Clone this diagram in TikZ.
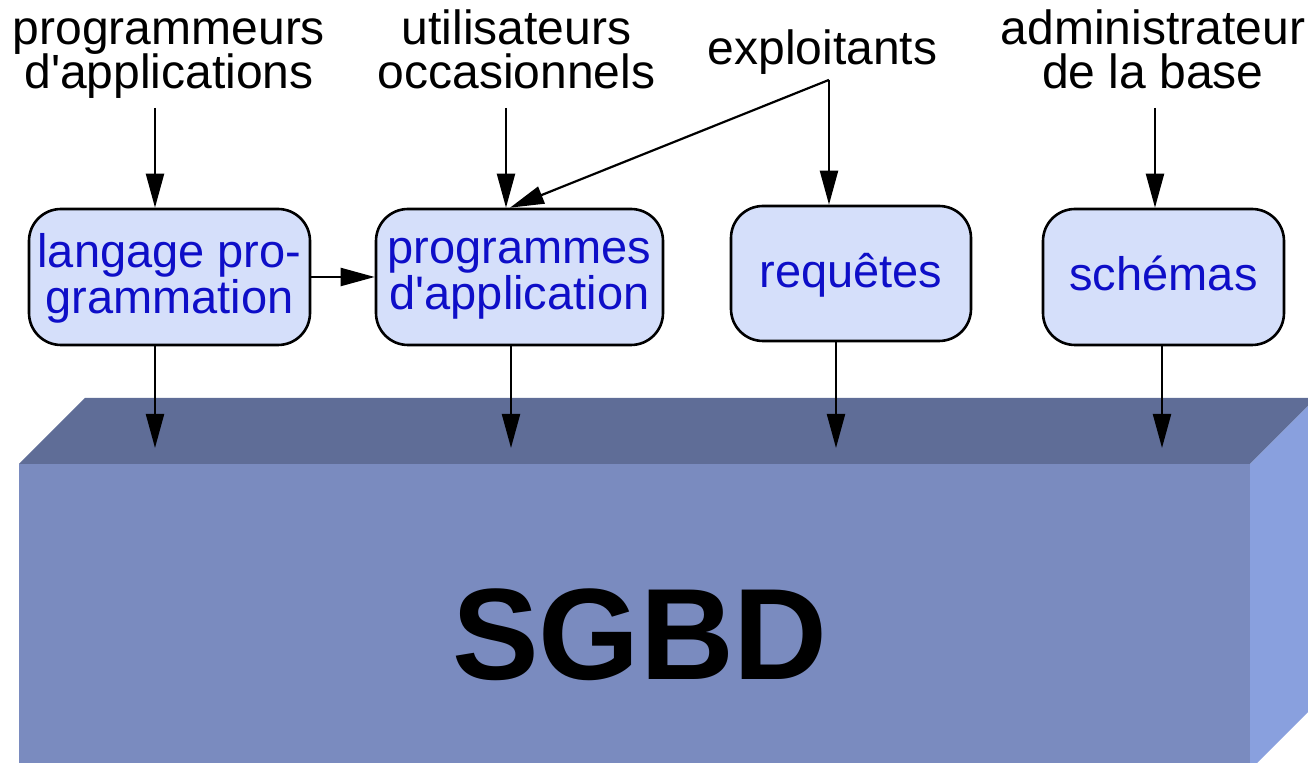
\documentclass[tikz,border=0pt]{standalone}
\usepackage{fontspec}
\newfontfamily\arialfont{Liberation Sans}
\usetikzlibrary{arrows.meta,calc}

\definecolor{topface}{RGB}{95,109,151}
\definecolor{frontface}{RGB}{122,139,191}
\definecolor{sideface}{RGB}{137,160,222}
\definecolor{boxfill}{RGB}{213,223,250}
\definecolor{boxtext}{RGB}{14,14,200}

% struts giving every line the same height and depth
\newcommand\boxstrut{\rule[-4.5pt]{0pt}{23pt}}
\newcommand\highstrut{\rule[-6.5pt]{0pt}{23pt}}
\newcommand\labstrut{\rule[-5pt]{0pt}{22.5pt}}
\newcommand\tightlines{\lineskiplimit=-20pt\relax}

\begin{document}
\begin{tikzpicture}[x=0.5pt,y=-0.5pt,
  stage/.style={draw=black, line width=1.3pt, fill=boxfill, rounded corners=16pt,
    inner sep=0pt, align=center, text=boxtext,
    font={\arialfont\fontsize{23.5}{23}\selectfont\tightlines}},
  who/.style={inner sep=0pt, align=center,
    font={\arialfont\fontsize{24}{22}\selectfont\tightlines}},
  arr/.style={line width=1.1pt, -{Triangle[length=17pt,width=9pt]}},
]
\useasboundingbox (0,0) rectangle (1308,763);

% the DBMS block, seen in perspective
\begin{scope}
  \clip (0,0) rectangle (1308,763);
  \fill[frontface] (19,464) rectangle (1250,770);
  \fill[topface] (19,464) -- (85,398) -- (1316,398) -- (1250,464) -- cycle;
  \fill[sideface] (1250,464) -- (1316,398) -- (1316,704) -- (1250,770) -- cycle;
\end{scope}
\node[font=\arialfont\bfseries\fontsize{65}{78}\selectfont, anchor=base, inner sep=0pt]
  (sgbd) at (640,680) {SGBD};

% users
\node[who] (lab1) at (169,54) {\labstrut programmeurs\\\labstrut d'applications};
\node[who] (lab2) at (516.5,54) {\labstrut utilisateurs\\\labstrut occasionnels};
\node[who] (lexp) at (822.5,52) {\labstrut exploitants};
\node[who] (lab4) at (1153,54) {\labstrut administrateur\\\labstrut de la base};

% tools
\node[stage, minimum width=140.5pt, minimum height=68pt] (b1) at (169.5,277)
  {\boxstrut langage pro-\\\boxstrut grammation};
\node[stage, minimum width=143.5pt, minimum height=68pt] (b2) at (519.5,277)
  {\highstrut programmes\\\highstrut d'application};
\node[stage, minimum width=120pt, minimum height=67.5pt] (b3) at (851,273.5)
  {\boxstrut requêtes};
\node[stage, minimum width=120.5pt, minimum height=68pt] (b4) at (1163.5,277)
  {\boxstrut schémas};

% attachment points of the connectors
\coordinate (in1) at ($(b1.north)+(-14.5,0)$);
\coordinate (in2) at ($(b2.north)+(-13.5,0)$);
\coordinate (in2b) at ($(b2.north)+(-9.5,0)$);
\coordinate (in3) at ($(b3.north)+(-22,0)$);
\coordinate (in4) at ($(b4.north)+(-8.5,0)$);
\coordinate (out1) at ($(b1.south)+(-14.5,0)$);
\coordinate (out2) at ($(b2.south)+(-8.5,0)$);
\coordinate (out3) at ($(b3.south)+(-15,0)$);
\coordinate (out4) at ($(b4.south)+(-1.5,0)$);
\coordinate (deck) at (0,448);
\coordinate (j) at ($(in3 |- lexp.south)+(0,5)$);

% users to tools
\draw[arr] ($(in1 |- lab1.south)+(0,9)$) -- (in1);
\draw[arr] ($(in2 |- lab2.south)+(0,9)$) -- (in2);
\draw[arr] ($(in4 |- lab4.south)+(0,9)$) -- (in4);
\draw[arr] (j) -- (in3);
\draw[arr] (j) -- (in2b);
\draw[arr] (b1.east) -- (b2.west);

% tools to the DBMS
\draw[arr] (out1) -- (out1 |- deck);
\draw[arr] (out2) -- (out2 |- deck);
\draw[arr] (out3) -- (out3 |- deck);
\draw[arr] (out4) -- (out4 |- deck);
\end{tikzpicture}
\end{document}
